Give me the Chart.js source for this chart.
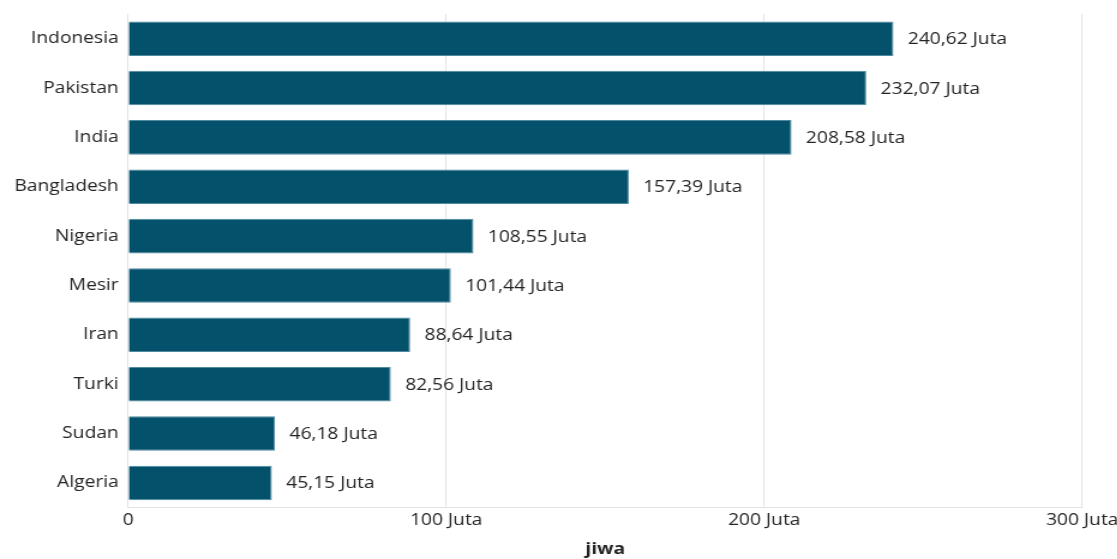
<!DOCTYPE html>
<html>
<head>
<meta charset="utf-8">
<script src="https://cdn.jsdelivr.net/npm/chart.js@4/dist/chart.umd.min.js"></script>
<style>
  html, body { margin: 0; padding: 0; background: #fff; overflow: hidden; }
  /* gambar asli sedikit melebar, jadi kanvas direntangkan horizontal */
  #wrap { width: 935px; height: 559px; transform: scaleX(1.2); transform-origin: 0 0; }
</style>
</head>
<body>
<div id="wrap"><canvas id="myChart"></canvas></div>
<script>
const countries = ["Indonesia", "Pakistan", "India", "Bangladesh", "Nigeria", "Mesir", "Iran", "Turki", "Sudan", "Algeria"];
const populasi = [240.62, 232.07, 208.58, 157.39, 108.55, 101.44, 88.64, 82.56, 46.18, 45.15];
const xTicks = [0, 100, 200, 300];

const fmt = (v) => v.toFixed(2).replace(".", ",") + " Juta";

// label di ujung batang
const barLabels = {
  id: "barLabels",
  afterDatasetsDraw(chart) {
    const ctx = chart.ctx;
    const meta = chart.getDatasetMeta(0);
    ctx.save();
    ctx.font = "16px 'Open Sans', sans-serif";
    ctx.fillStyle = "#252423";
    ctx.textBaseline = "middle";
    ctx.textAlign = "left";
    meta.data.forEach((bar, i) => {
      ctx.fillText(fmt(populasi[i]), bar.x + 12, bar.y + 1);
    });
    ctx.restore();
  },
};

Chart.defaults.font.family = "'Open Sans', sans-serif";
Chart.defaults.color = "#252423";

new Chart(document.getElementById("myChart"), {
  type: "bar",
  data: {
    labels: countries,
    datasets: [
      {
        data: populasi,
        backgroundColor: "#03516B",
        borderColor: "#4f8aa0",
        borderWidth: 1,
        categoryPercentage: 1,
        barPercentage: 0.7,
      },
    ],
  },
  options: {
    indexAxis: "y",
    responsive: true,
    maintainAspectRatio: false,
    animation: false,
    layout: { padding: { top: 14, left: 4 } },
    plugins: {
      legend: { display: false },
      tooltip: { enabled: false },
    },
    scales: {
      x: {
        min: 0,
        max: 300,
        afterBuildTicks: (axis) => {
          axis.ticks = xTicks.map((v) => ({ value: v }));
        },
        ticks: {
          font: { size: 16 },
          color: "#252423",
          padding: 3,
          maxRotation: 0,
          callback: (v) => (v === 0 ? "0" : v + " Juta"),
        },
        grid: { color: "#e3e3e3", drawTicks: false },
        border: { color: "#e3e3e3" },
        title: {
          display: true,
          text: "jiwa",
          font: { size: 16, weight: "bold" },
          color: "#252423",
          padding: { top: 7, bottom: 0 },
        },
      },
      y: {
        afterFit: (axis) => {
          axis.paddingTop = 0;
          axis.paddingBottom = 0;
        },
        ticks: {
          font: { size: 16 },
          color: "#252423",
          padding: 8,
        },
        grid: { display: false, drawTicks: false },
        border: { color: "#e3e3e3" },
      },
    },
  },
  plugins: [barLabels],
});
</script>
</body>
</html>
